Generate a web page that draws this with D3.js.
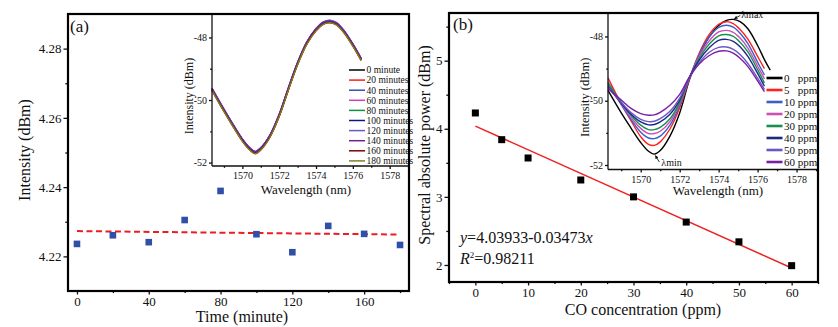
<!DOCTYPE html>
<html>
<head>
<meta charset="utf-8">
<script src="https://cdn.jsdelivr.net/npm/d3@7"></script>
<style>
  body { margin: 0; background: #fff; }
  svg { display: block; }
  text { font-family: "Liberation Serif", "Times New Roman", serif; fill: #111; }
</style>
</head>
<body>
<svg id="fig" width="838" height="327"></svg>
<script>
// ── Data: panel (a) stability test ───────────────────────────────────────────
const timeMin   = [0, 20, 40, 60, 80, 100, 120, 140, 160, 180];
const timePower = [4.2236, 4.2261, 4.2241, 4.2305, 4.2389, 4.2264, 4.2212, 4.2288, 4.2265, 4.2233];
const timeFitX  = [0, 180];
const timeFitY  = [4.2273, 4.2263];

// inset (a): spectra recorded every 20 minutes
const wlA = [1568.35, 1569, 1569.5, 1570, 1570.4, 1570.7, 1571, 1571.5, 1572, 1572.5,
             1573, 1573.5, 1574, 1574.4, 1574.75, 1575.1, 1575.5, 1576, 1576.45];
const spectraA = [
  { label: "0 minute",    color: "#000000", v: [-49.66,-50.33,-50.82,-51.28,-51.56,-51.68,-51.56,-51.15,-50.49,-49.64,-48.83,-48.18,-47.75,-47.54,-47.49,-47.56,-47.80,-48.24,-48.70] },
  { label: "20 minutes",  color: "#ff1a1a", v: [-49.68,-50.35,-50.84,-51.30,-51.58,-51.70,-51.58,-51.17,-50.52,-49.67,-48.86,-48.21,-47.78,-47.57,-47.52,-47.59,-47.82,-48.26,-48.72] },
  { label: "40 minutes",  color: "#3050c0", v: [-49.63,-50.30,-50.79,-51.25,-51.53,-51.65,-51.53,-51.12,-50.46,-49.61,-48.80,-48.15,-47.72,-47.51,-47.46,-47.53,-47.77,-48.21,-48.67] },
  { label: "60 minutes",  color: "#d040b0", v: [-49.65,-50.32,-50.81,-51.27,-51.55,-51.67,-51.55,-51.14,-50.48,-49.63,-48.82,-48.17,-47.74,-47.53,-47.48,-47.55,-47.79,-48.23,-48.69] },
  { label: "80 minutes",  color: "#109040", v: [-49.66,-50.34,-50.83,-51.29,-51.57,-51.69,-51.57,-51.16,-50.50,-49.65,-48.84,-48.19,-47.76,-47.55,-47.50,-47.57,-47.81,-48.25,-48.71] },
  { label: "100 minutes", color: "#101880", v: [-49.64,-50.31,-50.80,-51.26,-51.54,-51.66,-51.54,-51.13,-50.47,-49.62,-48.81,-48.16,-47.73,-47.52,-47.47,-47.54,-47.78,-48.22,-48.68] },
  { label: "120 minutes", color: "#6a5ac8", v: [-49.62,-50.29,-50.78,-51.24,-51.52,-51.64,-51.52,-51.11,-50.45,-49.60,-48.79,-48.14,-47.71,-47.50,-47.45,-47.52,-47.76,-48.20,-48.66] },
  { label: "140 minutes", color: "#702090", v: [-49.64,-50.31,-50.80,-51.26,-51.54,-51.66,-51.54,-51.13,-50.47,-49.62,-48.81,-48.16,-47.73,-47.52,-47.47,-47.54,-47.78,-48.22,-48.68] },
  { label: "160 minutes", color: "#800000", v: [-49.69,-50.36,-50.85,-51.31,-51.59,-51.71,-51.59,-51.18,-50.52,-49.67,-48.86,-48.21,-47.78,-47.57,-47.52,-47.59,-47.83,-48.27,-48.73] },
  { label: "180 minutes", color: "#808020", v: [-49.70,-50.37,-50.86,-51.32,-51.60,-51.72,-51.60,-51.19,-50.53,-49.68,-48.87,-48.22,-47.79,-47.58,-47.53,-47.60,-47.84,-48.28,-48.74] },
];

// ── Data: panel (b) CO response ──────────────────────────────────────────────
const coPpm   = [0, 5, 10, 20, 30, 40, 50, 60];
const coPower = [4.232, 3.84, 3.571, 3.248, 3.0, 2.63, 2.34, 1.99];
const fitIntercept = 4.03933, fitSlope = -0.03473, fitR2 = "0.98211";

// inset (b): spectra for each CO concentration
const wlB = [1568.32, 1569, 1569.5, 1570, 1570.4, 1570.7, 1571, 1571.5, 1572, 1572.5,
             1573, 1573.5, 1574, 1574.4, 1574.75, 1575.1, 1575.5, 1576, 1576.35, 1576.65];
const spectraB = [
  { label: "0   ppm", color: "#000000", v: [-49.68,-50.38,-50.85,-51.30,-51.57,-51.66,-51.55,-51.10,-50.38,-49.35,-48.58,-48.03,-47.66,-47.50,-47.47,-47.54,-47.76,-48.28,-48.72,-49.05] },
  { label: "5   ppm", color: "#ff2020", v: [-49.29,-50.10,-50.62,-51.12,-51.36,-51.39,-51.28,-50.88,-50.22,-49.32,-48.52,-47.95,-47.62,-47.54,-47.60,-47.78,-48.08,-48.62,-49.00,null] },
  { label: "10 ppm",  color: "#3a5fc8", v: [-49.42,-50.12,-50.58,-50.98,-51.16,-51.18,-51.10,-50.76,-50.15,-49.30,-48.56,-48.03,-47.72,-47.65,-47.71,-47.90,-48.22,-48.80,-49.20,null] },
  { label: "20 ppm",  color: "#c850b8", v: [-49.50,-50.10,-50.52,-50.86,-51.02,-51.02,-50.95,-50.65,-50.10,-49.30,-48.62,-48.15,-47.86,-47.81,-47.87,-48.05,-48.36,-48.92,-49.32,null] },
  { label: "30 ppm",  color: "#1a9050", v: [-49.45,-50.05,-50.45,-50.76,-50.90,-50.90,-50.83,-50.56,-50.05,-49.28,-48.68,-48.25,-47.98,-47.94,-48.00,-48.18,-48.48,-49.03,-49.45,null] },
  { label: "40 ppm",  color: "#1c2a85", v: [-49.55,-50.08,-50.42,-50.66,-50.75,-50.74,-50.66,-50.42,-49.98,-49.27,-48.74,-48.36,-48.12,-48.09,-48.15,-48.32,-48.62,-49.15,-49.55,null] },
  { label: "50 ppm",  color: "#6b56c8", v: [-49.58,-50.05,-50.37,-50.58,-50.65,-50.64,-50.56,-50.33,-49.92,-49.28,-48.82,-48.50,-48.34,-48.33,-48.40,-48.56,-48.84,-49.30,-49.65,null] },
  { label: "60 ppm",  color: "#7b1fa2", v: [-49.62,-49.98,-50.24,-50.40,-50.45,-50.44,-50.36,-50.14,-49.80,-49.26,-48.86,-48.60,-48.46,-48.45,-48.52,-48.68,-48.94,-49.38,-49.72,null] },
];
const peakWl = 1574.75, peakDb = -47.47, minWl = 1570.7, minDb = -51.66;

const svg = d3.select("#fig");
const asText = d => String(d);

svg.append("defs").append("marker")
  .attr("id", "arr").attr("viewBox", "0 0 10 10").attr("refX", 9).attr("refY", 5)
  .attr("markerWidth", 4).attr("markerHeight", 4).attr("orient", "auto")
  .append("path").attr("d", "M0,0L10,5L0,10z").attr("fill", "#111");

// ── Helper: axis with major + minor ticks, no domain line ────────────────────
function drawAxis(g, axisFn, scale, major, minor, size, fmt, fontSize, pad) {
  g.append("g").call(axisFn(scale).tickValues(minor).tickSize(size * 0.6).tickFormat(""))
    .call(a => a.select(".domain").remove());
  const ax = g.append("g").call(axisFn(scale).tickValues(major).tickSize(size).tickPadding(pad).tickFormat(fmt));
  ax.select(".domain").remove();
  ax.attr("font-family", null);
  ax.selectAll("text").attr("font-size", fontSize).attr("fill", "#111");
  g.selectAll("line").attr("stroke", "#111").attr("stroke-width", 1.3);
}

function frame(x0, y0, x1, y1) {
  svg.append("rect").attr("x", x0).attr("y", y0).attr("width", x1 - x0).attr("height", y1 - y0)
    .attr("fill", "none").attr("stroke", "#000").attr("stroke-width", 2.2);
}

// ── Component: inset spectrum plot ───────────────────────────────────────────
function drawInset(o) {
  const x = d3.scaleLinear().domain(o.xDom).range([o.x0, o.x1]);
  const y = d3.scaleLinear().domain(o.yDom).range([o.y1, o.y0]);
  svg.append("rect").attr("x", o.x0).attr("y", o.y0).attr("width", o.x1 - o.x0)
    .attr("height", o.y1 - o.y0).attr("fill", "#fff");

  const line = d3.line().defined(d => d[1] != null)
    .x(d => x(d[0])).y(d => y(d[1])).curve(d3.curveCatmullRom.alpha(0.5));
  o.series.forEach(s => {
    svg.append("path").datum(o.wl.map((w, i) => [w, s.v[i]]))
      .attr("d", line).attr("fill", "none").attr("stroke", s.color).attr("stroke-width", o.lw);
  });

  const gx = svg.append("g").attr("transform", `translate(0,${o.y1})`);
  drawAxis(gx, d3.axisBottom, x, [1570, 1572, 1574, 1576, 1578], [1569, 1571, 1573, 1575, 1577, 1579], 3, asText, 10, 3);
  const gy = svg.append("g").attr("transform", `translate(${o.x0},0)`);
  drawAxis(gy, d3.axisLeft, y, [-52, -50, -48], [-51, -49], 3, asText, 10, 2);
  svg.append("line").attr("x1", o.x0).attr("x2", o.x0).attr("y1", o.y0).attr("y2", o.y1)
    .attr("stroke", "#111").attr("stroke-width", 1.3);
  svg.append("line").attr("x1", o.x0).attr("x2", o.x1).attr("y1", o.y1).attr("y2", o.y1)
    .attr("stroke", "#111").attr("stroke-width", 1.3);

  svg.append("text").attr("transform", `translate(${o.yLabX},${(o.y0 + o.y1) / 2 + 6}) rotate(-90)`)
    .attr("text-anchor", "middle").attr("font-size", o.labFs).text("Intensity (dBm)");
  svg.append("text").attr("x", o.xLabX).attr("y", o.xLabY).attr("text-anchor", "middle")
    .attr("font-size", 13).text("Wavelength (nm)");

  // Legend
  const leg = svg.append("g").attr("transform", `translate(${o.legX},${o.legY})`);
  o.series.forEach((s, i) => {
    const r = leg.append("g").attr("transform", `translate(0,${i * o.legDy})`);
    r.append("line").attr("x1", 0).attr("x2", 16).attr("stroke", s.color).attr("stroke-width", o.legLw);
    r.append("text").attr("x", 17.5).attr("y", o.legFs * 0.35).attr("font-size", o.legFs)
      .style("white-space", "pre").text(s.label);
  });
  return { x, y };
}

// ── Panel (a) ────────────────────────────────────────────────────────────────
(function panelA() {
  const L = 68, R = 409, T = 14, B = 291;
  const x = d3.scaleLinear().domain([-5, 185]).range([L, R]);
  const y = d3.scaleLinear().domain([4.21, 4.29]).range([B, T]);

  const gx = svg.append("g").attr("transform", `translate(0,${B})`);
  drawAxis(gx, d3.axisBottom, x, [0, 40, 80, 120, 160], [20, 60, 100, 140, 180], 3.5, asText, 13, 2);
  const gy = svg.append("g").attr("transform", `translate(${L},0)`);
  drawAxis(gy, d3.axisLeft, y, [4.22, 4.24, 4.26, 4.28], [4.23, 4.25, 4.27], 4.5, d3.format(".2f"), 13, 2);

  svg.append("path").datum(timeFitX.map((t, i) => [t, timeFitY[i]]))
    .attr("d", d3.line().x(d => x(d[0])).y(d => y(d[1])))
    .attr("fill", "none").attr("stroke", "#ec1c24").attr("stroke-width", 2).attr("stroke-dasharray", "6,3.5");

  svg.append("g").selectAll("rect").data(timeMin).join("rect")
    .attr("x", d => x(d) - 3.3).attr("y", (d, i) => y(timePower[i]) - 3.3)
    .attr("width", 6.6).attr("height", 6.6).attr("fill", "#2f4fa8");

  drawInset({
    x0: 212, x1: 409, y0: 14, y1: 166, xDom: [1568.35, 1579.05], yDom: [-52.11, -47.25],
    wl: wlA, series: spectraA, lw: 1.4,
    yLabX: 193, labFs: 12, xLabX: 306, xLabY: 194,
    legX: 349, legY: 70, legDy: 10.1, legFs: 9.5, legLw: 1.5
  });

  frame(L, T, R, B);
  svg.append("text").attr("x", 70).attr("y", 32).attr("font-size", 17).text("(a)");
  svg.append("text").attr("transform", `translate(30,150) rotate(-90)`).attr("text-anchor", "middle")
    .attr("font-size", 16).text("Intensity (dBm)");
  svg.append("text").attr("x", 242).attr("y", 322).attr("text-anchor", "middle")
    .attr("font-size", 16).text("Time (minute)");
})();

// ── Panel (b) ────────────────────────────────────────────────────────────────
(function panelB() {
  const L = 449, R = 818, T = 13, B = 282;
  const x = d3.scaleLinear().domain([-5, 65]).range([L, R]);
  const y = d3.scaleLinear().domain([1.75, 5.7]).range([B, T]);

  const gx = svg.append("g").attr("transform", `translate(0,${B})`);
  drawAxis(gx, d3.axisBottom, x, [0, 10, 20, 30, 40, 50, 60], [-5, 5, 15, 25, 35, 45, 55, 65], 3.5, asText, 13, 2.5);
  const gy = svg.append("g").attr("transform", `translate(${L},0)`);
  drawAxis(gy, d3.axisLeft, y, [2, 3, 4, 5], [2.5, 3.5, 4.5, 5.5], 4.5, asText, 13, 2);

  const fx = [0, 60];
  svg.append("path").datum(fx.map(c => [c, fitIntercept + fitSlope * c]))
    .attr("d", d3.line().x(d => x(d[0])).y(d => y(d[1])))
    .attr("fill", "none").attr("stroke", "#ee2222").attr("stroke-width", 1.5);

  svg.append("g").selectAll("rect").data(coPpm).join("rect")
    .attr("x", d => x(d) - 3.5).attr("y", (d, i) => y(coPower[i]) - 3.5)
    .attr("width", 7).attr("height", 7).attr("fill", "#000");

  const eq = svg.append("text").attr("x", 460).attr("y", 243).attr("font-size", 16);
  eq.append("tspan").attr("font-style", "italic").text("y");
  eq.append("tspan").text(`=${fitIntercept}-${Math.abs(fitSlope)}`);
  eq.append("tspan").attr("font-style", "italic").text("x");
  const r2 = svg.append("text").attr("x", 460).attr("y", 264).attr("font-size", 16);
  r2.append("tspan").attr("font-style", "italic").text("R");
  r2.append("tspan").attr("font-size", 9).attr("dy", -6).text("2");
  r2.append("tspan").attr("dy", 6).text(`=${fitR2}`);

  const ins = drawInset({
    x0: 608, x1: 818, y0: 13, y1: 169.5, xDom: [1568.32, 1579.1], yDom: [-52.14, -47.27],
    wl: wlB, series: spectraB, lw: 1.4,
    yLabX: 589, labFs: 12.5, xLabX: 718, xLabY: 195,
    legX: 766.5, legY: 78, legDy: 12, legFs: 11, legLw: 2.6
  });

  // λmax / λmin annotations
  const px = ins.x(peakWl), py = ins.y(peakDb), mx = ins.x(minWl), my = ins.y(minDb);
  svg.append("line").attr("x1", px + 7).attr("y1", py - 4).attr("x2", px + 1).attr("y2", py - 0.5)
    .attr("stroke", "#111").attr("stroke-width", 0.9).attr("marker-end", "url(#arr)");
  svg.append("text").attr("x", px + 8).attr("y", py - 1).attr("font-size", 10).text("λmax");
  svg.append("line").attr("x1", mx + 5).attr("y1", my + 8).attr("x2", mx + 1).attr("y2", my + 1.5)
    .attr("stroke", "#111").attr("stroke-width", 0.9).attr("marker-end", "url(#arr)");
  svg.append("text").attr("x", mx + 7).attr("y", my + 12).attr("font-size", 10).text("λmin");

  frame(L, T, R, B);
  svg.append("text").attr("x", 453).attr("y", 30).attr("font-size", 17).text("(b)");
  svg.append("text").attr("transform", `translate(430,145) rotate(-90)`).attr("text-anchor", "middle")
    .attr("font-size", 16).text("Spectral absolute power (dBm)");
  svg.append("text").attr("x", 643).attr("y", 315).attr("text-anchor", "middle")
    .attr("font-size", 16).text("CO concentration (ppm)");
})();
</script>
</body>
</html>
